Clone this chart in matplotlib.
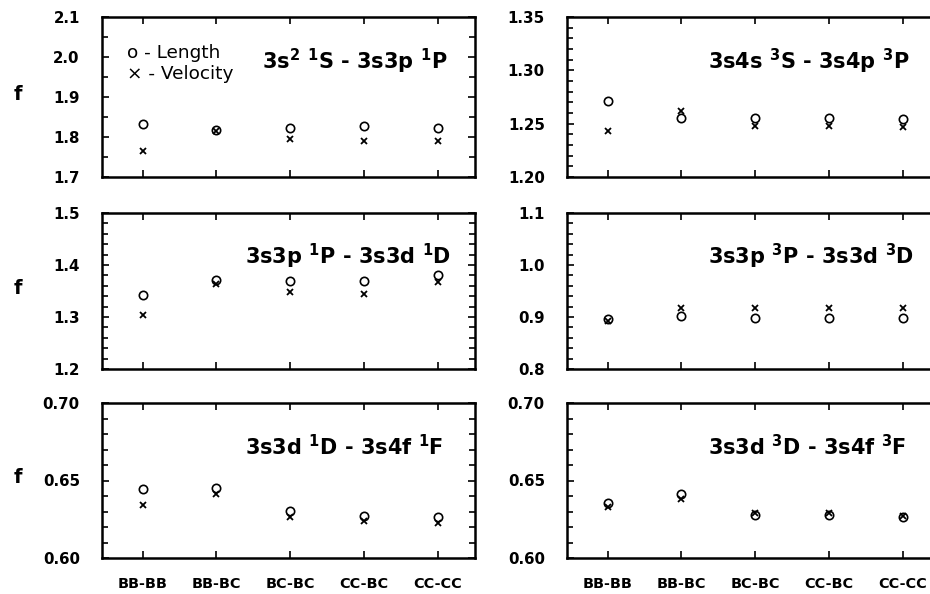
import matplotlib
matplotlib.use("Agg")
import matplotlib.pyplot as plt
from matplotlib.ticker import MultipleLocator, FormatStrFormatter

plt.rcParams['font.family'] = ['DejaVu Sans']
plt.rcParams['mathtext.fontset'] = 'dejavusans'

# basis set combinations
labels = ['BB-BB', 'BB-BC', 'BC-BC', 'CC-BC', 'CC-CC']

# oscillator strengths, length (o) and velocity (x) forms
t1_len = [1.832, 1.818, 1.822, 1.828, 1.822]
t1_vel = [1.765, 1.814, 1.796, 1.790, 1.790]

t2_len = [1.271, 1.255, 1.2555, 1.2555, 1.254]
t2_vel = [1.243, 1.262, 1.248, 1.248, 1.247]

t3_len = [1.342, 1.371, 1.369, 1.369, 1.381]
t3_vel = [1.303, 1.364, 1.349, 1.344, 1.367]

t4_len = [0.897, 0.902, 0.899, 0.899, 0.899]
t4_vel = [0.892, 0.918, 0.917, 0.917, 0.917]

t5_len = [0.6448, 0.6454, 0.6301, 0.6273, 0.6267]
t5_vel = [0.6339, 0.6410, 0.6262, 0.6240, 0.6225]

t6_len = [0.6352, 0.6410, 0.6280, 0.6280, 0.6262]
t6_vel = [0.6330, 0.6382, 0.6292, 0.6292, 0.6272]

titles = [r'3s$^\mathbf{2}$ $^\mathbf{1}$S - 3s3p $^\mathbf{1}$P',
          r'3s4s $^\mathbf{3}$S - 3s4p $^\mathbf{3}$P',
          r'3s3p $^\mathbf{1}$P - 3s3d $^\mathbf{1}$D',
          r'3s3p $^\mathbf{3}$P - 3s3d $^\mathbf{3}$D',
          r'3s3d $^\mathbf{1}$D - 3s4f $^\mathbf{1}$F',
          r'3s3d $^\mathbf{3}$D - 3s4f $^\mathbf{3}$F']

panels = [
    (t1_len, t1_vel, (1.7, 2.1), 0.1, 0.05, '%.1f'),
    (t2_len, t2_vel, (1.20, 1.35), 0.05, 0.01, '%.2f'),
    (t3_len, t3_vel, (1.2, 1.5), 0.1, 0.02, '%.1f'),
    (t4_len, t4_vel, (0.8, 1.1), 0.1, 0.02, '%.1f'),
    (t5_len, t5_vel, (0.60, 0.70), 0.05, 0.01, '%.2f'),
    (t6_len, t6_vel, (0.60, 0.70), 0.05, 0.01, '%.2f'),
]

W, H = 930, 594
fig = plt.figure(figsize=(W/100, H/100), dpi=100)

col_left = [102, 567]
panel_w = 373
rows = [(17, 177), (213, 369), (403, 558)]
# left edge of each panel title, in pixels
title_x = [262, 708, 245, 708, 245, 708]

x = list(range(len(labels)))

for i, (lv, vv, ylim, major, minor, fmt) in enumerate(panels):
    r, c = divmod(i, 2)
    top, bot = rows[r]
    ax = fig.add_axes([col_left[c]/W, 1 - bot/H, panel_w/W, (bot - top)/H])

    ax.plot(x, lv, 'o', mfc='none', mec='black', ms=6, mew=1.2)
    ax.plot(x, vv, 'x', color='black', ms=5, mew=1.3)

    ax.set_xlim(-0.55, 4.5)
    ax.set_ylim(*ylim)
    ax.set_xticks(x)
    if r == 2:
        ax.set_xticklabels(labels, fontsize=10.4, fontweight='bold')
    else:
        ax.set_xticklabels([])
    ax.yaxis.set_major_locator(MultipleLocator(major))
    ax.yaxis.set_minor_locator(MultipleLocator(minor))
    ax.yaxis.set_major_formatter(FormatStrFormatter(fmt))
    for lab in ax.get_yticklabels():
        lab.set_fontweight('bold')
        lab.set_fontsize(10.8)

    ax.tick_params(which='both', direction='in', top=True, right=True, width=1.2)
    ax.tick_params(axis='y', which='major', length=5, pad=16)
    ax.tick_params(axis='y', which='minor', length=4)
    ax.tick_params(axis='x', which='major', length=5, pad=14)
    for s in ax.spines.values():
        s.set_linewidth(1.8)

    ax.text((title_x[i] - col_left[c])/panel_w, 0.72, titles[i],
            transform=ax.transAxes, ha='left', va='center',
            fontsize=15, fontweight='bold')

    if c == 0:
        fig.text(18/W, 1 - ((top + bot)/2 - 3)/H, 'f', fontsize=14,
                 fontweight='bold', ha='center', va='center')

    if i == 0:
        ax.text(0.067, 0.775, 'o - Length', transform=ax.transAxes,
                fontsize=13.3, va='center')
        ax.text(0.067, 0.645, '× - Velocity', transform=ax.transAxes,
                fontsize=13.3, va='center')

fig.savefig('out.png', dpi=100)
